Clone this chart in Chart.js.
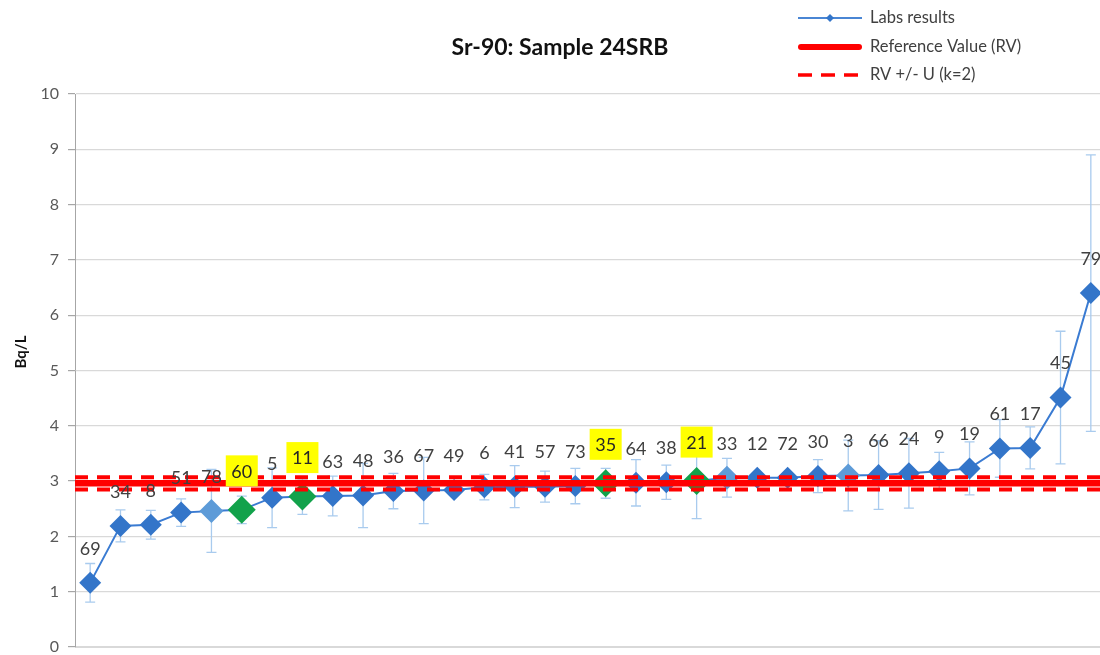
<!DOCTYPE html>
<html>
<head>
<meta charset="utf-8">
<script src="https://cdn.jsdelivr.net/npm/chart.js@4.4.1/dist/chart.umd.min.js"></script>
<style>
  html, body { margin: 0; padding: 0; overflow: hidden; background: #fff; width: 1100px; height: 655px; }
  canvas { display: block; }
</style>
</head>
<body>
<canvas id="chart" width="1106" height="655"></canvas>
<script>
// Lab codes, sorted by reported activity
const labIds = ['69','34','8','51','78','60','5','11','63','48','36','67','49','6','41','57','73',
                '35','64','38','21','33','12','72','30','3','66','24','9','19','61','17','45','79'];
// Reported Sr-90 activity (Bq/L)
const labValues = [1.16,2.19,2.21,2.43,2.46,2.48,2.70,2.72,2.73,2.74,2.82,2.83,2.84,2.89,2.90,2.90,2.91,
                   2.96,2.97,2.98,3.00,3.06,3.06,3.06,3.09,3.10,3.11,3.14,3.18,3.23,3.59,3.60,4.51,6.40];
// Reported uncertainty (Bq/L)
const labUncertainty = [0.35,0.29,0.26,0.25,0.75,0.25,0.54,0.32,0.36,0.58,0.32,0.60,0.08,0.23,0.38,0.28,0.32,
                        0.27,0.42,0.31,0.68,0.35,0.08,0.08,0.30,0.64,0.62,0.63,0.34,0.48,0.52,0.38,1.20,2.50];
// Labs drawn in green with a highlighted code
const highlightedLabs = ['60','11','35','21'];
// Labs drawn in light blue
const lightLabs = ['78','33','3'];
// Reference value and expanded uncertainty (k=2)
const referenceValue = 2.96;
const expandedU = 0.11;
// Y axis ticks
const yTicks = [0,1,2,3,4,5,6,7,8,9,10];

const FONT = 'Lato, "Open Sans", sans-serif';
const BLUE = '#3375c9';
const LIGHT = '#5d9bd8';
const GREEN = '#12a24b';
const RED = '#ff0000';

const markerColors = labIds.map(id =>
  highlightedLabs.includes(id) ? GREEN : (lightLabs.includes(id) ? LIGHT : BLUE));
const markerSizes = labIds.map(id =>
  highlightedLabs.includes(id) ? 14 : (lightLabs.includes(id) ? 12 : 11));

// Vertical uncertainty bars, drawn beneath all series
const errorBars = {
  id: 'errorBars',
  beforeDatasetsDraw(chart) {
    const { ctx, scales: { x, y } } = chart;
    ctx.save();
    ctx.strokeStyle = '#a9cbee';
    ctx.lineWidth = 1.3;
    labValues.forEach((v, i) => {
      const px = x.getPixelForValue(i);
      const top = y.getPixelForValue(v + labUncertainty[i]);
      const bot = y.getPixelForValue(v - labUncertainty[i]);
      ctx.beginPath();
      ctx.moveTo(px, top); ctx.lineTo(px, bot);
      ctx.moveTo(px - 5, top); ctx.lineTo(px + 5, top);
      ctx.moveTo(px - 5, bot); ctx.lineTo(px + 5, bot);
      ctx.stroke();
    });
    ctx.restore();
  }
};

// Lab code labels above each point
const codeLabels = {
  id: 'codeLabels',
  afterDatasetsDraw(chart) {
    const { ctx, scales: { x, y } } = chart;
    ctx.save();
    ctx.font = '18px ' + FONT;
    ctx.textAlign = 'center';
    ctx.textBaseline = 'middle';
    labValues.forEach((v, i) => {
      const px = x.getPixelForValue(i);
      const py = y.getPixelForValue(v);
      const id = labIds[i];
      if (highlightedLabs.includes(id)) {
        const cy = py - 39;
        ctx.fillStyle = '#ffff00';
        ctx.fillRect(px - 16, cy - 15.5, 32, 31);
        ctx.fillStyle = '#262626';
        ctx.fillText(id, px, cy + 1);
      } else {
        ctx.fillStyle = '#404040';
        ctx.fillText(id, px, py - 35 + 1);
      }
    });
    ctx.restore();
  }
};

// Title, axis title and legend
const decorations = {
  id: 'decorations',
  afterDraw(chart) {
    const { ctx } = chart;
    ctx.save();
    ctx.textBaseline = 'middle';
    ctx.textAlign = 'center';
    ctx.fillStyle = '#111';
    ctx.font = 'bold 23px ' + FONT;
    ctx.fillText('Sr-90: Sample 24SRB', 560, 48);

    ctx.save();
    ctx.translate(21, 352);
    ctx.rotate(-Math.PI / 2);
    ctx.font = 'bold 15px ' + FONT;
    ctx.fillStyle = '#111';
    ctx.fillText('Bq/L', 0, 0);
    ctx.restore();

    const lx0 = 798, lx1 = 862, tx = 870;
    ctx.textAlign = 'left';
    ctx.font = '16.5px ' + FONT;
    ctx.fillStyle = '#404040';

    ctx.strokeStyle = '#4a86d4';
    ctx.lineWidth = 2;
    ctx.beginPath(); ctx.moveTo(lx0, 18); ctx.lineTo(lx1, 18); ctx.stroke();
    ctx.fillStyle = BLUE;
    ctx.beginPath();
    ctx.moveTo(830 - 4, 18); ctx.lineTo(830, 14); ctx.lineTo(834, 18); ctx.lineTo(830, 22);
    ctx.closePath(); ctx.fill();
    ctx.fillStyle = '#404040';
    ctx.fillText('Labs results', tx, 18);

    ctx.strokeStyle = RED;
    ctx.lineWidth = 6;
    ctx.lineCap = 'round';
    ctx.beginPath(); ctx.moveTo(lx0 + 3, 47); ctx.lineTo(lx1 - 3, 47); ctx.stroke();
    ctx.fillText('Reference Value (RV)', tx, 47);

    ctx.lineCap = 'butt';
    ctx.lineWidth = 3.5;
    ctx.setLineDash([14, 9]);
    ctx.beginPath(); ctx.moveTo(lx0, 75); ctx.lineTo(lx1, 75); ctx.stroke();
    ctx.setLineDash([]);
    ctx.fillText('RV +/- U (k=2)', tx, 75);
    ctx.restore();
  }
};

const flat = v => [{ x: 0, y: v }, { x: 1, y: v }];

new Chart(document.getElementById('chart'), {
  type: 'line',
  data: {
    labels: labIds,
    datasets: [
      {
        label: 'Labs results',
        data: labValues,
        borderColor: '#3a7bd2',
        borderWidth: 2,
        pointStyle: 'rectRot',
        pointRadius: markerSizes,
        pointBorderWidth: 0,
        pointBackgroundColor: markerColors,
        pointBorderColor: markerColors,
        order: 3
      },
      {
        label: 'Reference Value (RV)',
        data: flat(referenceValue),
        xAxisID: 'x2',
        borderColor: RED,
        borderWidth: 6.5,
        pointRadius: 0,
        order: 1
      },
      {
        label: 'RV +/- U (k=2)',
        data: flat(referenceValue + expandedU),
        xAxisID: 'x2',
        borderColor: RED,
        borderWidth: 4,
        borderDash: [13, 9],
        pointRadius: 0,
        order: 2
      },
      {
        label: 'RV - U',
        data: flat(referenceValue - expandedU),
        xAxisID: 'x2',
        borderColor: RED,
        borderWidth: 4,
        borderDash: [13, 9],
        pointRadius: 0,
        order: 2
      }
    ]
  },
  options: {
    responsive: false,
    animation: false,
    events: [],
    layout: { autoPadding: false, padding: { top: 94, bottom: 8, left: 0, right: 0 } },
    plugins: { legend: { display: false }, title: { display: false }, tooltip: { enabled: false } },
    scales: {
      x: {
        type: 'category',
        offset: true,
        ticks: { display: false },
        grid: { display: false },
        border: { display: true, color: '#d9d9d9', width: 1 },
        afterFit(s) { s.height = 0; s.paddingLeft = 0; s.paddingRight = 0; }
      },
      x2: {
        type: 'linear',
        min: 0, max: 1,
        display: false
      },
      y: {
        min: yTicks[0],
        max: yTicks[yTicks.length - 1],
        afterBuildTicks(s) { s.ticks = yTicks.map(v => ({ value: v })); },
        afterFit(s) { s.width = 75; s.paddingTop = 0; s.paddingBottom = 0; },
        ticks: { color: '#595959', font: { family: FONT, size: 16 }, padding: 9 },
        grid: { color: '#d9d9d9', lineWidth: 1.2, tickLength: 7, tickColor: '#a6a6a6' },
        border: { color: '#a6a6a6', width: 1 }
      }
    }
  },
  plugins: [errorBars, codeLabels, decorations]
});
</script>
</body>
</html>
